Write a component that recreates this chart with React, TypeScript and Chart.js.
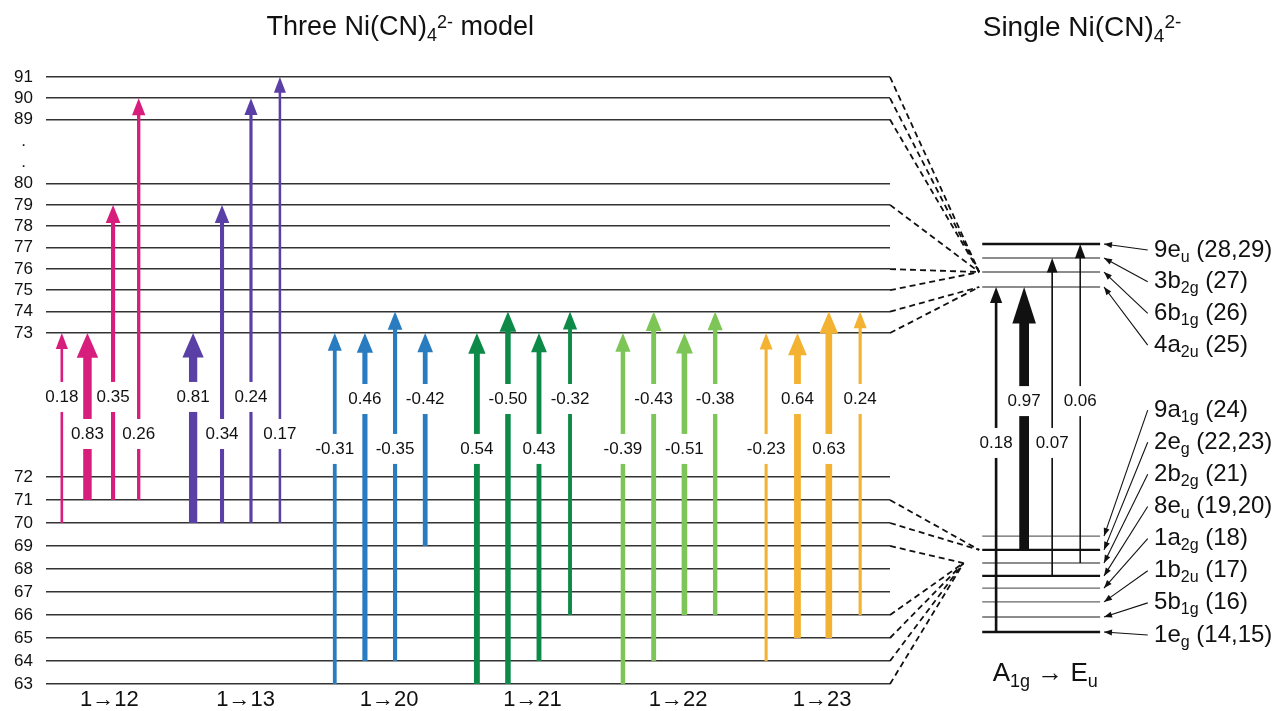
import React, { useEffect, useRef } from 'react';
import { Chart, registerables } from 'chart.js';

Chart.register(...registerables);

// ---------- data ----------
// Left axis: orbital numbers of the three-Ni(CN)4 model (broken axis, schematic energies)
const LEVEL_LABELS = ['63', '64', '65', '66', '67', '68', '69', '70', '71', '72', '73', '74', '75', '76', '77', '78', '79', '80', '.', '.', '89', '90', '91'];
const LEVEL_Y = [0, 1, 2, 3, 4, 5, 6, 7, 8, 9, 15.26, 16.19, 17.12, 18.04, 18.97, 19.9, 20.83, 21.75, 22.68, 23.61, 24.54, 25.47, 26.39];

const TRANSITIONS = ['1→12', '1→13', '1→20', '1→21', '1→22', '1→23'];
const ARROW_FROM = [
  [70, 71, 71, 71],
  [70, 70, 70, 70],
  [63, 64, 64, 69],
  [63, 63, 64, 66],
  [63, 64, 66, 66],
  [64, 65, 65, 66],
];
const ARROW_TO = [
  [73, 73, 79, 90],
  [73, 79, 90, 91],
  [73, 73, 74, 73],
  [73, 74, 73, 74],
  [73, 74, 73, 74],
  [73, 73, 74, 74],
];
const ARROW_COEF = [
  [0.18, 0.83, 0.35, 0.26],
  [0.81, 0.34, 0.24, 0.17],
  [-0.31, 0.46, -0.35, -0.42],
  [0.54, -0.5, 0.43, -0.32],
  [-0.39, -0.43, -0.51, -0.38],
  [-0.23, 0.64, 0.63, 0.24],
];

// Single Ni(CN)4 2- levels
const RIGHT_MAIN = ['9e', '3b', '6b', '4a', '9a', '2e', '2b', '8e', '1a', '1b', '5b', '1e'];
const RIGHT_SUB = ['u', '2g', '1g', '2u', '1g', 'g', '2g', 'u', '2g', '2u', '1g', 'g'];
const RIGHT_IDX = ['28,29', '27', '26', '25', '24', '22,23', '21', '19,20', '18', '17', '16', '14,15'];
const RIGHT_Y = [19.13, 18.52, 17.91, 17.26, 6.43, 5.83, 5.26, 4.7, 4.17, 3.57, 2.91, 2.26];

const SINGLE_FROM = ['1e', '2e', '8e', '2b'];
const SINGLE_TO = ['4a', '4a', '3b', '9e'];
const SINGLE_COEF = [0.18, 0.97, 0.07, 0.06];

// correlation (dashed) lines: left level -> right level
const LINK_FROM = [91, 90, 89, 79, 76, 75, 74, 73, 71, 70, 69, 66, 65, 64, 63];
const LINK_TO = ['6b', '6b', '6b', '6b', '6b', '6b', '4a', '4a', '2e', '2e', '2b', '2b', '2b', '2b', '2b'];

// ---------- layout / style ----------
const FONT = "'Liberation Sans', Arial, Helvetica, sans-serif";
const COLORS = ['#d81e7c', '#5a3fa6', '#2a7cc0', '#0e8a48', '#7dc557', '#f3b232'];
const X_MAX = 28;
const GROUP_CENTER_X = [1.8, 6.32, 11.08, 15.84, 20.67, 25.45];
const GROUP_GAP = [0.85, 0.96, 1.0, 1.03, 1.02, 1.04];
const RIGHT_X0 = 31.06;
const RIGHT_X1 = 34.97;
const LABEL_X = 36.76;
const POINTER_X0 = 36.55;
const POINTER_X1 = 35.1;

const yOf = (lvl: number | string) => LEVEL_Y[LEVEL_LABELS.indexOf(String(lvl))];
const rOf = (name: string) => RIGHT_Y[RIGHT_MAIN.indexOf(name)];
const rightLabelY = (i: number) => (i < 4 ? 18.87 - i * 1.38 : 11.91 - (i - 4) * 1.397);

type Part = { t: string; k: 'n' | 'sub' | 'sup' };

function drawRich(ctx: CanvasRenderingContext2D, parts: Part[], x: number, y: number, size: number, align: 'left' | 'center') {
  const sizes = parts.map((p) => (p.k === 'n' ? size : Math.round(size * 0.68)));
  const widths = parts.map((p, i) => {
    ctx.font = `${sizes[i]}px ${FONT}`;
    return ctx.measureText(p.t).width;
  });
  const total = widths.reduce((a, b) => a + b, 0);
  let cx = align === 'center' ? x - total / 2 : x;
  ctx.textAlign = 'left';
  ctx.textBaseline = 'middle';
  ctx.fillStyle = '#111';
  parts.forEach((p, i) => {
    ctx.font = `${sizes[i]}px ${FONT}`;
    const dy = p.k === 'sub' ? size * 0.3 : p.k === 'sup' ? -size * 0.2 : 0;
    ctx.fillText(p.t, cx, y + dy);
    cx += widths[i];
  });
}

function drawArrow(ctx: CanvasRenderingContext2D, px: number, y0: number, y1: number, c: number, color: string) {
  const w = 1 + 9 * Math.abs(c);
  const hw = 8 + 1.6 * w;
  const hl = 12 + 1.5 * w + (w > 9 ? 10 : 0);
  ctx.fillStyle = color;
  ctx.fillRect(px - w / 2, y1 + hl - 1, w, y0 - (y1 + hl - 1));
  ctx.beginPath();
  ctx.moveTo(px, y1);
  ctx.lineTo(px - hw / 2, y1 + hl);
  ctx.lineTo(px + hw / 2, y1 + hl);
  ctx.closePath();
  ctx.fill();
}

function drawValue(ctx: CanvasRenderingContext2D, text: string, px: number, py: number) {
  ctx.font = `17px ${FONT}`;
  const w = ctx.measureText(text).width;
  ctx.fillStyle = '#fff';
  ctx.fillRect(px - w / 2 - 3, py - 15, w + 6, 30);
  ctx.fillStyle = '#111';
  ctx.textAlign = 'center';
  ctx.textBaseline = 'middle';
  ctx.fillText(text, px, py);
}

const diagramPlugin = {
  id: 'diagram',
  afterDatasetsDraw(chart: any) {
    const { ctx, scales } = chart;
    const X = (v: number) => scales.x.getPixelForValue(v);
    const Y = (v: number) => scales.y.getPixelForValue(v);
    ctx.save();

    // three-Ni(CN)4 model arrows
    const vals: [string, number, number][] = [];
    TRANSITIONS.forEach((_, g) => {
      ARROW_COEF[g].forEach((c, i) => {
        const ax = GROUP_CENTER_X[g] + (i - 1.5) * GROUP_GAP[g];
        drawArrow(ctx, X(ax), Y(yOf(ARROW_FROM[g][i])), Y(yOf(ARROW_TO[g][i])), c, COLORS[g]);
        const upper = (i % 2 === 0) === g < 2;
        const ly = upper ? (g < 2 ? 12.48 : 12.39) : g < 2 ? 10.87 : 10.22;
        vals.push([c.toFixed(2), X(ax), Y(ly)]);
      });
    });

    // single Ni(CN)4 arrows
    SINGLE_COEF.forEach((c, i) => {
      const ax = RIGHT_X0 + 0.46 + i * 0.93;
      drawArrow(ctx, X(ax), Y(rOf(SINGLE_FROM[i])), Y(rOf(SINGLE_TO[i])), c, '#111');
      vals.push([c.toFixed(2), X(ax), Y(i % 2 === 0 ? 10.48 : 12.3)]);
    });

    vals.forEach(([t, px, py]) => drawValue(ctx, t, px, py));

    // pointer heads and level labels
    RIGHT_MAIN.forEach((_, i) => {
      const sx = X(POINTER_X0), sy = Y(rightLabelY(i));
      const ex = X(POINTER_X1), ey = Y(RIGHT_Y[i]);
      const a = Math.atan2(ey - sy, ex - sx);
      ctx.fillStyle = '#111';
      ctx.beginPath();
      ctx.moveTo(ex, ey);
      ctx.lineTo(ex - 8 * Math.cos(a) + 3 * Math.sin(a), ey - 8 * Math.sin(a) - 3 * Math.cos(a));
      ctx.lineTo(ex - 8 * Math.cos(a) - 3 * Math.sin(a), ey - 8 * Math.sin(a) + 3 * Math.cos(a));
      ctx.closePath();
      ctx.fill();
      drawRich(
        ctx,
        [
          { t: RIGHT_MAIN[i], k: 'n' },
          { t: RIGHT_SUB[i], k: 'sub' },
          { t: ` (${RIGHT_IDX[i]})`, k: 'n' },
        ],
        X(LABEL_X),
        Y(rightLabelY(i)),
        24,
        'left'
      );
    });

    // titles and symmetry label
    drawRich(ctx, [{ t: 'Three Ni(CN)', k: 'n' }, { t: '4', k: 'sub' }, { t: '2-', k: 'sup' }, { t: ' model', k: 'n' }], X(11.75), Y(28.52), 27, 'center');
    drawRich(ctx, [{ t: 'Single Ni(CN)', k: 'n' }, { t: '4', k: 'sub' }, { t: '2-', k: 'sup' }], X(34.37), Y(28.52), 28, 'center');
    drawRich(ctx, [{ t: 'A', k: 'n' }, { t: '1g', k: 'sub' }, { t: ' → E', k: 'n' }, { t: 'u', k: 'sub' }], X(33.15), Y(0.43), 26, 'center');

    ctx.restore();
  },
};

export default function App() {
  const ref = useRef<HTMLCanvasElement | null>(null);

  useEffect(() => {
    document.body.style.margin = '0';
    const canvas = ref.current;
    if (!canvas) return;

    const datasets: any[] = [];
    // right-hand levels
    RIGHT_MAIN.forEach((m, i) => {
      const deg = m.includes('e');
      datasets.push({
        data: [
          { x: RIGHT_X0, y: RIGHT_Y[i] },
          { x: RIGHT_X1, y: RIGHT_Y[i] },
        ],
        showLine: true,
        borderColor: deg ? '#111' : '#666',
        borderWidth: deg ? 2.4 : 1.4,
        pointRadius: 0,
        clip: false,
      });
    });
    // dashed correlation lines
    LINK_FROM.forEach((f, i) => {
      const to = LINK_TO[i];
      datasets.push({
        data: [
          { x: X_MAX, y: yOf(f) },
          { x: to === '2b' ? RIGHT_X0 - 0.62 : RIGHT_X0 - 0.1, y: rOf(to) },
        ],
        showLine: true,
        borderColor: '#111',
        borderWidth: 1.8,
        borderDash: [6, 4],
        pointRadius: 0,
        clip: false,
      });
    });
    // label pointers
    RIGHT_MAIN.forEach((_, i) => {
      datasets.push({
        data: [
          { x: POINTER_X0, y: rightLabelY(i) },
          { x: POINTER_X1, y: RIGHT_Y[i] },
        ],
        showLine: true,
        borderColor: '#111',
        borderWidth: 1.1,
        pointRadius: 0,
        clip: false,
      });
    });

    const chart = new Chart(canvas, {
      type: 'scatter',
      data: { datasets },
      options: {
        responsive: false,
        animation: false,
        events: [],
        layout: { padding: { top: 77, right: 389, left: 0, bottom: 0 } },
        plugins: { legend: { display: false }, tooltip: { enabled: false } },
        scales: {
          x: {
            type: 'linear',
            min: 0,
            max: X_MAX,
            afterBuildTicks: (s: any) => {
              s.ticks = GROUP_CENTER_X.map((v) => ({ value: v + 0.3 }));
            },
            afterFit: (s: any) => {
              s.height = 27;
            },
            grid: { display: false, drawTicks: false },
            border: { display: false },
            ticks: {
              autoSkip: false,
              maxRotation: 0,
              padding: 3,
              color: '#111',
              font: { family: FONT, size: 22 },
              callback: (_v: any, i: number) => TRANSITIONS[i],
            },
          },
          y: {
            type: 'linear',
            min: 0,
            max: LEVEL_Y[LEVEL_Y.length - 1],
            afterBuildTicks: (s: any) => {
              s.ticks = LEVEL_Y.map((v) => ({ value: v }));
            },
            afterFit: (s: any) => {
              s.width = 46;
            },
            grid: {
              drawTicks: false,
              lineWidth: 1.6,
              color: (c: any) => (LEVEL_LABELS[c.index] === '.' ? 'rgba(0,0,0,0)' : '#333'),
            },
            border: { display: false },
            ticks: {
              autoSkip: false,
              padding: 13,
              crossAlign: 'center',
              color: '#111',
              font: { family: FONT, size: 17 },
              callback: (_v: any, i: number) => LEVEL_LABELS[i],
            },
          },
        },
      } as any,
      plugins: [diagramPlugin],
    });
    return () => chart.destroy();
  }, []);

  return <canvas ref={ref} width={1279} height={711} style={{ display: 'block' }} />;
}
